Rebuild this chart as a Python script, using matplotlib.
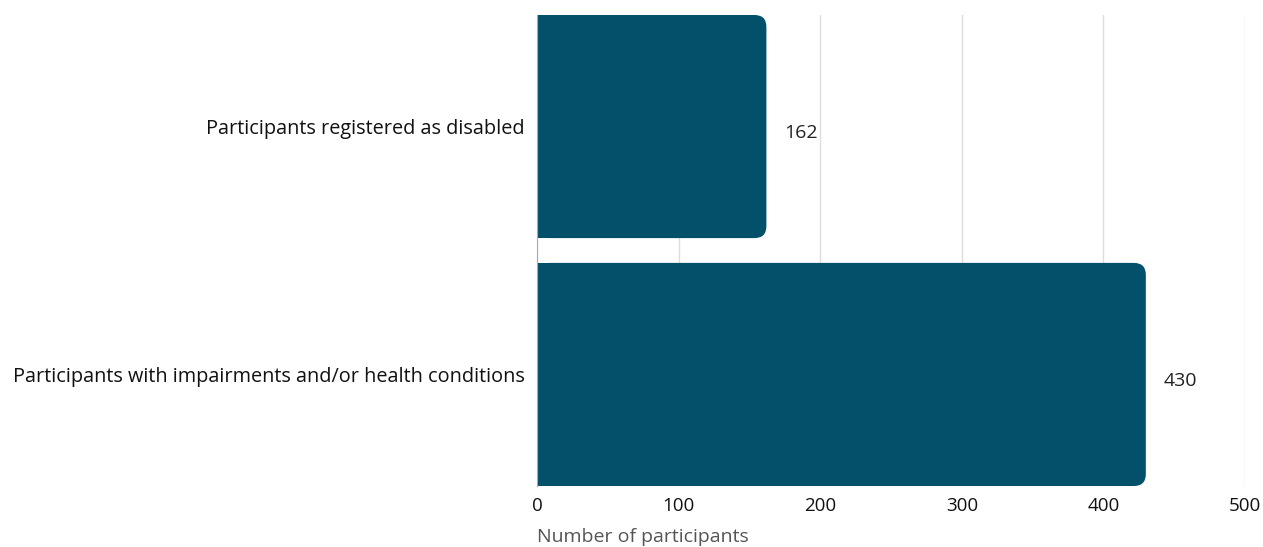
import matplotlib.pyplot as plt
from matplotlib.patches import FancyBboxPatch, Rectangle

plt.rcParams['font.family'] = ['Open Sans', 'DejaVu Sans']

categories = ["Participants with impairments and/or health conditions",
              "Participants registered as disabled"]
values = [430, 162]
xticks = [0, 100, 200, 300, 400, 500]

bar_color = "#02506a"
bar_h = 0.9

fig = plt.figure(figsize=(12.63, 5.47), dpi=100)
ax_w, ax_h = 0.5605, 0.8611
ax = fig.add_axes([0.4252, 0.1115, ax_w, ax_h])
ax.set_xlim(0, 500)
ax.set_ylim(-0.45, 1.45)

# rounded right ends: px per unit -> radius in data units
px_x = ax_w * 1263 / 500
px_y = ax_h * 547 / 1.9
r = 12 / px_x
aspect = (12 / px_y) / r

for i, v in enumerate(values):
    ax.add_patch(FancyBboxPatch((0, i - bar_h / 2), v, bar_h,
                                boxstyle=f"round,pad=0,rounding_size={r}",
                                mutation_aspect=aspect, fc=bar_color, ec="none", zorder=3))
    ax.add_patch(Rectangle((0, i - bar_h / 2), v - 2 * r, bar_h,
                           fc=bar_color, ec="none", zorder=3))
    ax.text(v + 18 / px_x, i - 0.025, str(v), va="center", ha="left",
            fontsize=14, color="#222222")

ax.set_yticks(range(len(categories)))
ax.set_yticklabels(categories, fontsize=14.3, color="#111111")
ax.set_xticks(xticks)
ax.set_xticklabels([str(t) for t in xticks], fontsize=13.5, color="#111111")
ax.tick_params(axis="x", length=0, pad=8)
ax.tick_params(axis="y", length=0, pad=9)
ax.grid(axis="x", color="#dddddd", linewidth=1, zorder=0)
for s in ["top", "right", "bottom"]:
    ax.spines[s].set_visible(False)
ax.spines["left"].set_color("#aaaaaa")
ax.spines["left"].set_zorder(4)

ax.set_xlabel("Number of participants", fontsize=14, color="#555555",
              loc="left", labelpad=9)

fig.savefig("out.png", dpi=100)
